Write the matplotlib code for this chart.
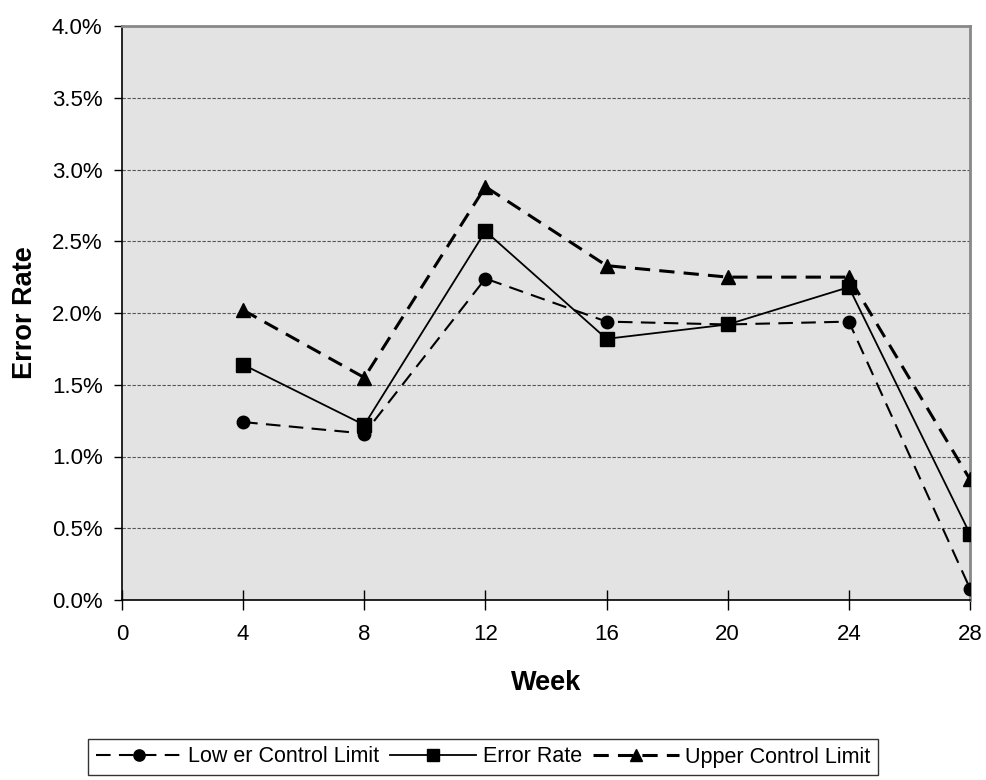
import numpy as np
import matplotlib.pyplot as plt
from matplotlib.ticker import FuncFormatter

plt.rcParams['font.family'] = ['Liberation Sans', 'DejaVu Sans']

weeks = [4, 8, 12, 16, 20, 24, 28]
lower = [1.24, 1.16, 2.24, 1.94, 1.92, 1.94, 0.08]
error = [1.64, 1.22, 2.57, 1.82, 1.92, 2.18, 0.46]
upper = [2.02, 1.55, 2.88, 2.33, 2.25, 2.25, 0.84]

fig = plt.figure(figsize=(9.86, 7.8), dpi=100)
ax = fig.add_axes([122/986, 1 - 600/780, 848/986, 574/780])
ax.set_facecolor('#e3e3e3')

ax.plot(weeks, lower, color='black', lw=1.5, ls=(0, (7, 4)), marker='o', ms=9,
        label='Low er Control Limit', zorder=3)
ax.plot(weeks, error, color='black', lw=1.3, ls='-', marker='s', ms=10,
        label='Error Rate', zorder=4)
ax.plot(weeks, upper, color='black', lw=2.2, ls=(0, (5, 3)), marker='^', ms=10,
        label='Upper Control Limit', zorder=3)

ax.set_xlim(0, 28)
ax.set_ylim(0, 4.0)
ax.set_xticks(np.arange(0, 29, 4))
ax.set_yticks(np.arange(0, 4.01, 0.5))
ax.yaxis.set_major_formatter(FuncFormatter(lambda v, p: f'{v:.1f}%'))
ax.grid(axis='y', color='#555555', ls=(0, (3, 1.5)), lw=0.8)
ax.set_axisbelow(True)

ax.tick_params(axis='x', direction='inout', length=14, width=1, labelsize=16, pad=10)
ax.tick_params(axis='y', direction='out', length=6, width=1, labelsize=16, pad=8)

for s in ['top', 'right']:
    ax.spines[s].set_color('#888888')
    ax.spines[s].set_linewidth(2)
for s in ['left', 'bottom']:
    ax.spines[s].set_color('black')
    ax.spines[s].set_linewidth(1.2)

ax.set_xlabel('Week', fontsize=19.5, fontweight='bold', labelpad=18)
ax.set_ylabel('Error Rate', fontsize=19.5, fontweight='bold', labelpad=10)

leg = fig.legend(loc='center', bbox_to_anchor=(483/986, 1 - 757/780), ncol=3,
                 fontsize=15.5, frameon=True, fancybox=False, edgecolor='black',
                 handlelength=4.0, columnspacing=0.5, handletextpad=0.3,
                 borderpad=0.35, borderaxespad=0, markerscale=0.9)
leg.get_frame().set_linewidth(1)

fig.savefig('out.png', dpi=100)
